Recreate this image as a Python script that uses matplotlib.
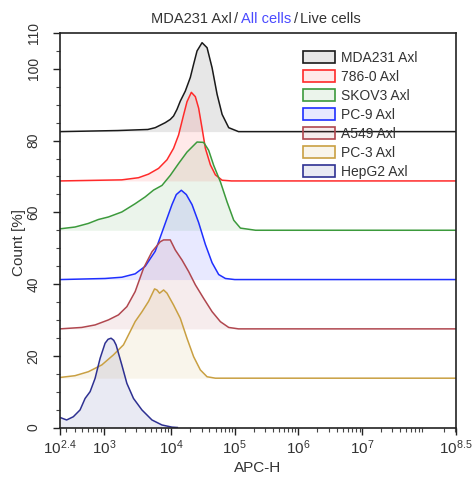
import numpy as np
import matplotlib
matplotlib.use("Agg")
import matplotlib.pyplot as plt
from matplotlib.patches import Patch
from matplotlib.ticker import FixedLocator, NullFormatter

plt.rcParams['font.family'] = ['Liberation Sans', 'DejaVu Sans']
plt.rcParams['mathtext.fontset'] = 'custom'
plt.rcParams['mathtext.rm'] = 'Liberation Sans'
plt.rcParams['mathtext.it'] = 'Liberation Sans'

# ---- data (x in log10 APC-H, y = count % above each curve's baseline) ----
labels = ["MDA231 Axl", "786-0 Axl", "SKOV3 Axl", "PC-9 Axl", "A549 Axl", "PC-3 Axl", "HepG2 Axl"]
offsets = [82.5, 68.75, 55.0, 41.25, 27.5, 13.75, 0.0]
colors = ["#1a1a1a", "#ff2a2a", "#3c9a3c", "#1f2fff", "#b0474f", "#c9a042", "#2e3192"]

mda_x = [2.4, 3.2, 3.65, 3.76, 3.91, 3.985, 4.036, 4.09, 4.142, 4.221, 4.30, 4.352, 4.406, 4.485,
         4.564, 4.643, 4.722, 4.801, 4.905, 5.06, 8.5]
mda_y = [0, 0.3, 0.6, 1.1, 2.5, 3.4, 4.35, 6.2, 8.5, 11.3, 15.1, 18.8, 22.5, 24.8,
         23.4, 17.8, 10.4, 4.8, 1.1, 0, 0]

r786_x = [2.4, 3.26, 3.51, 3.66, 3.81, 3.936, 4.036, 4.115, 4.194, 4.248, 4.316, 4.379, 4.431,
          4.485, 4.537, 4.616, 4.695, 4.801, 4.95, 8.5]
r786_y = [0, 0.3, 0.9, 1.9, 3.5, 5.9, 9.1, 12.8, 18.4, 22.1, 24.7, 23.5, 20.3,
          14.7, 9.1, 4.5, 1.7, 0.2, 0, 0]

skov_x = [2.4, 2.603, 2.783, 2.919, 3.06, 3.261, 3.46, 3.61, 3.735, 3.861, 3.985, 4.115, 4.248,
          4.406, 4.51, 4.589, 4.668, 4.774, 4.879, 4.984, 5.09, 5.33, 8.5]
skov_y = [0.4, 0.9, 1.9, 3.0, 3.7, 5.1, 7.4, 9.3, 11.2, 12.5, 15.3, 18.6, 21.8,
          24.6, 24.5, 22.3, 18.1, 13.5, 7.9, 2.8, 0.6, 0, 0]

pc9_x = [2.4, 3.01, 3.261, 3.46, 3.61, 3.76, 3.91, 4.011, 4.079, 4.158, 4.237, 4.327, 4.431,
         4.537, 4.643, 4.747, 4.853, 5.0, 8.5]
pc9_y = [0, 0.3, 0.65, 1.6, 3.7, 7.9, 15.7, 20.9, 23.7, 24.9, 23.7, 20.9, 15.9,
         9.8, 4.7, 1.4, 0.3, 0, 0]

a549_x = [2.4, 2.694, 2.874, 3.06, 3.21, 3.336, 3.46, 3.585, 3.711, 3.835, 3.885, 3.985, 4.063,
          4.169, 4.273, 4.379, 4.51, 4.643, 4.774, 4.905, 5.06, 8.5]
a549_y = [0, 0.4, 1.1, 2.5, 3.9, 6.2, 10.4, 16.9, 21.5, 24.3, 24.8, 24.8, 22.0,
          19.2, 16.0, 12.3, 8.5, 4.8, 2.0, 0.4, 0, 0]

pc3_x = [2.4, 2.603, 2.783, 2.965, 3.135, 3.285, 3.385, 3.46, 3.561, 3.66, 3.75, 3.786, 3.825,
         3.885, 3.936, 4.036, 4.142, 4.248, 4.352, 4.458, 4.564, 4.695, 8.5]
pc3_y = [0.2, 0.7, 1.8, 3.7, 6.5, 9.3, 13.0, 15.8, 18.5, 21.4, 24.9, 24.6, 23.7,
         24.6, 23.7, 20.4, 16.7, 11.1, 6.0, 2.3, 0.4, 0, 0]

hepg2_x = [2.4, 2.49, 2.58, 2.671, 2.739, 2.807, 2.874, 2.942, 3.01, 3.055, 3.1, 3.14, 3.175, 3.261,
           3.336, 3.435, 3.561, 3.711, 3.861, 4.011, 4.095]
hepg2_y = [2.8, 2.1, 3.0, 4.9, 8.1, 10.0, 13.7, 19.3, 23.5, 24.6, 24.9, 24.3, 23.0, 17.4,
           12.3, 8.1, 4.9, 2.1, 0.7, 0.1, 0]

series_x = [mda_x, r786_x, skov_x, pc9_x, a549_x, pc3_x, hepg2_x]
series_y = [mda_y, r786_y, skov_y, pc9_y, a549_y, pc3_y, hepg2_y]

major_exp = [2.4, 3, 4, 5, 6, 7, 8.5]
major_lbl = ["2.4", "3", "4", "5", "6", "7", "8.5"]
ytick_vals = [0, 20, 40, 60, 80, 100, 110]

# ---- display scale of the cytometer axis (log-like, anchored at the labelled decades) ----
SC_L = np.array([2.4, 3.0, 4.0, 5.0, 6.0, 7.0, 8.5])
SC_P = np.array([0.0, 44.3, 111.0, 174.3, 237.3, 301.7, 395.0])


def _interp_ext(v, xs, ys):
    out = np.interp(v, xs, ys)
    lo = ys[0] + (v - xs[0]) * (ys[1] - ys[0]) / (xs[1] - xs[0])
    hi = ys[-1] + (v - xs[-1]) * (ys[-1] - ys[-2]) / (xs[-1] - xs[-2])
    out = np.where(v < xs[0], lo, out)
    out = np.where(v > xs[-1], hi, out)
    return out


def fwd(x):
    x = np.asarray(x, dtype=float)
    lx = np.log10(np.clip(x, 1e-6, None))
    return _interp_ext(lx, SC_L, SC_P)


def inv(p):
    p = np.asarray(p, dtype=float)
    return 10.0 ** _interp_ext(p, SC_P, SC_L)


W, H = 473, 482
fig = plt.figure(figsize=(W / 100, H / 100), dpi=100)
ax = fig.add_axes([60 / W, 1 - 427.5 / H, 396 / W, 394.5 / H])
ax.set_xscale('function', functions=(fwd, inv))

for xs, ys, off, col, lab in zip(series_x, series_y, offsets, colors, labels):
    xv = 10.0 ** np.asarray(xs)
    yv = np.asarray(ys) + off
    ax.fill_between(xv, off, yv, color=col, alpha=0.1, linewidth=0)
    ax.plot(xv, yv, color=col, lw=1.1, solid_joinstyle='round')

ax.set_xlim(10 ** 2.4, 10 ** 8.5)
ax.set_ylim(0, 110)

# x ticks
ax.xaxis.set_major_locator(FixedLocator([10.0 ** e for e in major_exp]))
ax.set_xticklabels([r'$\mathregular{10^{%s}}$' % s for s in major_lbl], fontsize=11)
minors = [k * 10.0 ** e for e in range(2, 9) for k in range(2, 10)
          if 10 ** 2.4 < k * 10.0 ** e < 10 ** 8.5]
ax.xaxis.set_minor_locator(FixedLocator(minors))
ax.xaxis.set_minor_formatter(NullFormatter())

# y ticks
ax.set_yticks(ytick_vals)
ax.set_yticklabels([str(v) for v in ytick_vals], rotation=90, va='center', fontsize=10)
ax.yaxis.set_minor_locator(FixedLocator(np.arange(5, 110, 5)))

ax.tick_params(axis='both', which='major', length=5, width=1.0, color='#222222', direction='out',
               labelcolor='#333333')
ax.tick_params(axis='both', which='minor', length=3, width=0.8, color='#444444', direction='out')
ax.tick_params(axis='y', which='major', pad=9)
ax.tick_params(axis='x', which='major', pad=3)
for s in ax.spines.values():
    s.set_color('#222222')
    s.set_linewidth(1.2)

ax.set_xlabel("APC-H", fontsize=11, color='#333333')
ax.xaxis.set_label_coords(0.5, -0.085)
ax.set_ylabel("Count [%]", fontsize=11, color='#333333')
ax.yaxis.set_label_coords(-0.085, 0.468)

# legend
handles = []
for c in colors:
    rgba = matplotlib.colors.to_rgba(c)
    handles.append(Patch(facecolor=(rgba[0], rgba[1], rgba[2], 0.1), edgecolor=c, linewidth=1.2))
leg = ax.legend(handles, labels, loc='upper left', bbox_to_anchor=(303 / W, 1 - 51 / H),
                bbox_transform=fig.transFigure, frameon=False, fontsize=10,
                handlelength=2.3, handleheight=0.9, handletextpad=0.4,
                labelspacing=0.36, borderpad=0, borderaxespad=0)
for t in leg.get_texts():
    t.set_color('#333333')

# title with coloured middle part
ty = 1 - 19 / H
tfs = 10.5
t1 = fig.text(151 / W, ty, "MDA231 Axl", fontsize=tfs, color='#333333', va='center', ha='left')
t2 = fig.text(0, 0, "/", fontsize=tfs, color='#333333', va='bottom', ha='left')
t3 = fig.text(0, 0, "All cells", fontsize=tfs, color='#4a4aff', va='bottom', ha='left')
t4 = fig.text(0, 0, "/", fontsize=tfs, color='#333333', va='bottom', ha='left')
t5 = fig.text(0, 0, "Live cells", fontsize=tfs, color='#333333', va='bottom', ha='left')
fig.canvas.draw()
r = fig.canvas.get_renderer()
prev = t1
for t in (t2, t3, t4, t5):
    bb = prev.get_window_extent(r)
    t.set_position(((bb.x1 + 2.5) / W, bb.y0 / H))
    fig.canvas.draw()
    prev = t

fig.savefig("out.png", dpi=100)
